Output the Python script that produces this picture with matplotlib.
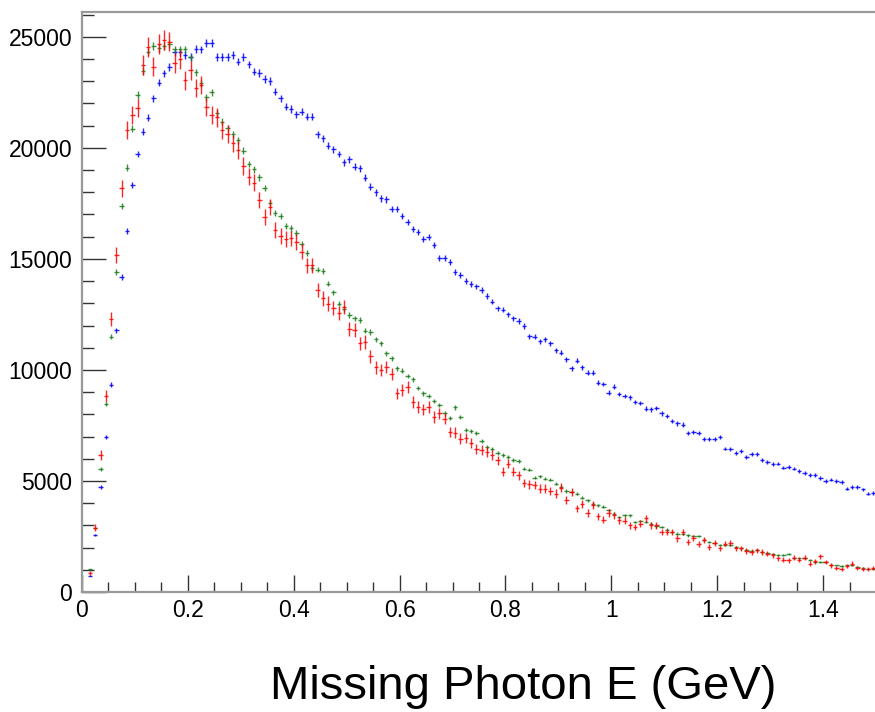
import numpy as np
import matplotlib
matplotlib.use("Agg")
import matplotlib.pyplot as plt
from matplotlib.ticker import MultipleLocator, FixedLocator

plt.rcParams['font.family'] = ['Liberation Sans', 'DejaVu Sans']

# Histogram: 150 bins of width 0.01 GeV from 0 to 1.5
bin_width = 0.01
bin_centers = np.arange(150) * bin_width + bin_width / 2

blue_counts = [
    0, 740, 2570, 4730, 6980, 9340, 11790, 14190, 16260, 18320,
    19720, 20720, 21360, 22230, 22930, 23350, 23650, 24300, 24300, 24180,
    24080, 24450, 24430, 24730, 24730, 24100, 24100, 24100, 24180, 23880,
    24080, 23760, 23430, 23380, 23100, 23010, 22530, 22230, 21850, 21750,
    21510, 21620, 21400, 21400, 20610, 20430, 20090, 19940, 19720, 19340,
    19490, 19150, 19070, 18650, 18250, 17990, 17720, 17680, 17240, 17240,
    16930, 16670, 16340, 16220, 15890, 15990, 15620, 15020, 15060, 14840,
    14390, 14280, 14000, 13870, 13760, 13610, 13330, 13080, 12770, 12720,
    12500, 12320, 12200, 11970, 11520, 11490, 11290, 11370, 11190, 10890,
    10770, 10470, 10070, 10410, 10110, 9870, 9870, 9430, 9360, 8970,
    9240, 8910, 8820, 8760, 8560, 8520, 8260, 8220, 8290, 8040,
    7920, 7690, 7590, 7540, 7140, 7210, 7160, 6910, 6870, 6870,
    6960, 6460, 6420, 6260, 6340, 6080, 6200, 6200, 5930, 5860,
    5750, 5780, 5600, 5630, 5560, 5450, 5360, 5260, 5260, 5140,
    4990, 5060, 5000, 4960, 4660, 4730, 4730, 4630, 4430, 4460,
]

green_counts = [
    0, 1020, 2890, 5540, 8460, 11490, 14410, 17370, 19100, 20850,
    22380, 23470, 24330, 24580, 24500, 24600, 24670, 24430, 24430, 24430,
    24070, 23400, 22900, 22270, 22500, 21550, 21170, 20880, 20620, 20350,
    19870, 19270, 19030, 18670, 18200, 17520, 17070, 16930, 16490, 16370,
    16150, 15650, 15270, 14570, 14520, 14450, 13890, 13490, 12990, 12750,
    12470, 12320, 12240, 11760, 11710, 11370, 11190, 10740, 10520, 10070,
    9960, 9730, 9570, 9190, 8940, 8830, 8600, 8410, 8040, 7840,
    8310, 7880, 7280, 7250, 7140, 6800, 6530, 6420, 6260, 6160,
    6080, 5930, 5900, 5560, 5510, 5150, 5210, 5110, 5060, 4880,
    4730, 4550, 4510, 4430, 4250, 4130, 3980, 3910, 3830, 3680,
    3530, 3380, 3460, 3460, 3150, 3200, 3150, 3080, 2960, 2930,
    2810, 2700, 2630, 2630, 2550, 2520, 2510, 2360, 2250, 2210,
    2100, 2100, 2100, 2030, 1960, 1880, 1850, 1880, 1800, 1760,
    1700, 1650, 1650, 1700, 1550, 1510, 1550, 1430, 1350, 1350,
    1350, 1230, 1200, 1160, 1200, 1200, 1130, 1100, 1050, 1050,
]

red_counts = [
    0, 860, 2900, 6160, 8830, 12300, 15170, 18170, 20800, 21480,
    21780, 23730, 24550, 23650, 24670, 24850, 24780, 23820, 23990, 23050,
    23500, 22700, 22830, 21850, 21480, 21370, 20800, 20620, 20200, 19900,
    19180, 18700, 18430, 17650, 16890, 17340, 16300, 16030, 15880, 15920,
    15770, 15320, 14720, 14720, 13590, 13220, 12990, 12770, 12570, 12840,
    11840, 11790, 11190, 11260, 10620, 10110, 9990, 10140, 9810, 8940,
    9090, 9240, 8560, 8330, 8220, 8330, 7880, 8040, 7810, 7210,
    7180, 6910, 6940, 6700, 6460, 6400, 6300, 6160, 5930, 5410,
    5780, 5410, 5260, 4910, 4850, 4810, 4660, 4660, 4550, 4430,
    4700, 4160, 4510, 3760, 3980, 3560, 3910, 3410, 3260, 3560,
    3460, 3230, 3200, 3010, 2930, 3080, 3310, 3010, 3010, 2700,
    2700, 2700, 2410, 2700, 2250, 2450, 2150, 2360, 2030, 2210,
    1960, 2180, 2210, 1960, 1960, 1850, 1800, 1880, 1800, 1730,
    1650, 1510, 1460, 1430, 1550, 1460, 1550, 1280, 1380, 1610,
    1350, 1200, 1100, 1050, 1160, 1280, 1100, 1050, 1050, 1100,
]

x_tick_values = [0, 0.2, 0.4, 0.6, 0.8, 1.0, 1.2, 1.4]
x_tick_labels = ["0", "0.2", "0.4", "0.6", "0.8", "1", "1.2", "1.4"]
y_tick_values = [0, 5000, 10000, 15000, 20000, 25000]
y_tick_labels = ["0", "5000", "10000", "15000", "20000", "25000"]
x_label = "Missing Photon E (GeV)"

W, H = 875, 712
fig = plt.figure(figsize=(W / 100, H / 100), dpi=100)
left, right, bottom, top = 82, 876, 592, 11.7
ax = fig.add_axes([left / W, 1 - bottom / H, (right - left) / W, (bottom - top) / H])

series = [
    (blue_counts, '#0000ff', 1.1),
    (green_counts, '#1d7d1d', 1.1),
    (red_counts, '#ff0000', 2.8),
]
for counts, color, err_scale in series:
    y = np.asarray(counts, dtype=float)
    yerr = np.sqrt(y) * err_scale
    ax.errorbar(bin_centers, y, xerr=0.0042, yerr=yerr, fmt='none',
                ecolor=color, elinewidth=1.0, capsize=0, alpha=0.85)

ax.set_xlim(0, 1.5)
ax.set_ylim(0, 26130)

ax.xaxis.set_major_locator(FixedLocator(x_tick_values))
ax.set_xticklabels(x_tick_labels)
ax.xaxis.set_minor_locator(MultipleLocator(0.05))
ax.yaxis.set_major_locator(FixedLocator(y_tick_values))
ax.set_yticklabels(y_tick_labels)
ax.yaxis.set_minor_locator(MultipleLocator(1000))

ax.tick_params(axis='both', which='both', direction='in', colors='#333333',
               labelcolor='black', labelsize=16.5, width=1.0)
ax.tick_params(axis='y', which='major', length=17.5, pad=7)
ax.tick_params(axis='y', which='minor', length=8.6)
ax.tick_params(axis='x', which='major', length=12, pad=5)
ax.tick_params(axis='x', which='minor', length=7.5)

for side in ['left', 'top', 'bottom']:
    ax.spines[side].set_color('#999999')
    ax.spines[side].set_linewidth(1.6)
ax.spines['right'].set_visible(False)

fig.text(523 / W, 1 - 687 / H, x_label, ha='center', va='center', fontsize=34)

fig.savefig('out.png', dpi=100)
